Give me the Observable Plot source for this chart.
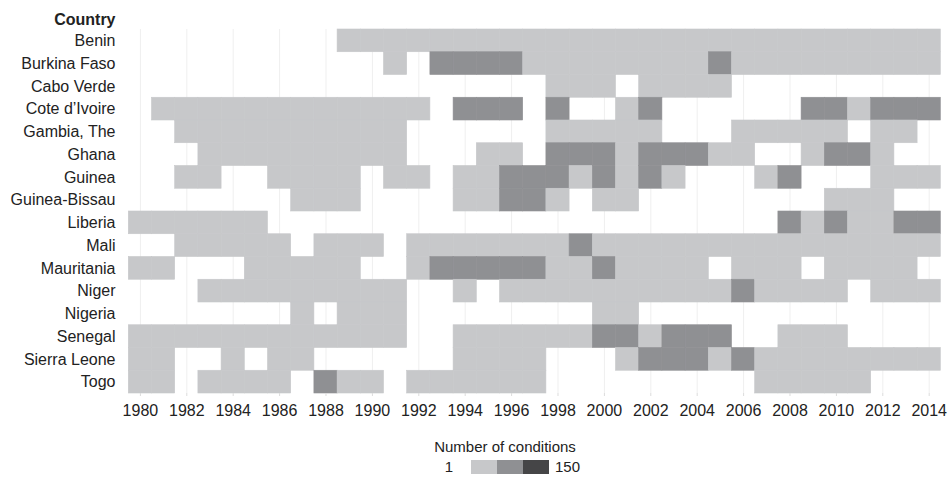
<!DOCTYPE html>
<html>
<head>
<meta charset="utf-8">
<script src="https://cdn.jsdelivr.net/npm/d3@7"></script>
<script src="https://cdn.jsdelivr.net/npm/@observablehq/plot@0.6"></script>
<style>
  html, body { margin: 0; padding: 0; background: #fff; }
  body { width: 948px; height: 477px; position: relative; overflow: hidden;
         font-family: "Liberation Sans", Arial, Helvetica, sans-serif; color: #222; }
  #legend-title { position: absolute; top: 438px; left: 505px; transform: translateX(-50%);
                  font-size: 15px; white-space: nowrap; }
  #legend-row { position: absolute; top: 459px; left: 0; width: 948px; height: 16px; font-size: 15px; }
  #legend-row .lo { position: absolute; right: 495px; top: -1px; }
  #legend-row .hi { position: absolute; left: 555px; top: -1px; }
  #legend-row .sw { position: absolute; top: 1px; width: 26px; height: 14px; }
</style>
</head>
<body>
<div id="chart"></div>
<div id="legend-title"></div>
<div id="legend-row"></div>
<script>
// ---- data ----
const years = d3.range(1980, 2015);
const evenYears = d3.range(1980, 2015, 2);
const countries = ["Benin", "Burkina Faso", "Cabo Verde", "Cote d\u2019Ivoire", "Gambia, The", "Ghana", "Guinea",
  "Guinea-Bissau", "Liberia", "Mali", "Mauritania", "Niger", "Nigeria", "Senegal", "Sierra Leone", "Togo"];
// level per year 1980..2014 (0 = none, 1 = light, 2 = medium, 3 = dark)
const benin        = [0,0,0,0,0,0,0,0,0,1,1,1,1,1,1,1,1,1,1,1,1,1,1,1,1,1,1,1,1,1,1,1,1,1,1];
const burkinaFaso  = [0,0,0,0,0,0,0,0,0,0,0,1,0,2,2,2,2,1,1,1,1,1,1,1,1,2,1,1,1,1,1,1,1,1,1];
const caboVerde    = [0,0,0,0,0,0,0,0,0,0,0,0,0,0,0,0,0,0,1,1,1,0,1,1,1,1,0,0,0,0,0,0,0,0,0];
const coteDIvoire  = [0,1,1,1,1,1,1,1,1,1,1,1,1,0,2,2,2,0,2,0,0,1,2,0,0,0,0,0,0,2,2,1,2,2,2];
const gambia       = [0,0,1,1,1,1,1,1,1,1,1,1,0,0,0,0,0,0,1,1,1,1,1,0,0,0,1,1,1,1,1,0,1,1,0];
const ghana        = [0,0,0,1,1,1,1,1,1,1,1,1,0,0,0,1,1,0,2,2,2,1,2,2,2,1,1,0,0,1,2,2,1,0,0];
const guinea       = [0,0,1,1,0,0,1,1,1,1,0,1,1,0,1,1,2,2,2,1,2,1,2,1,0,0,0,1,2,0,0,0,1,1,1];
const guineaBissau = [0,0,0,0,0,0,0,1,1,1,0,0,0,0,1,1,2,2,1,0,1,1,0,0,0,0,0,0,0,0,1,1,1,0,0];
const liberia      = [1,1,1,1,1,1,0,0,0,0,0,0,0,0,0,0,0,0,0,0,0,0,0,0,0,0,0,0,2,1,2,1,1,2,2];
const mali         = [0,0,1,1,1,1,1,0,1,1,1,0,1,1,1,1,1,1,1,2,1,1,1,1,1,1,1,1,1,1,1,1,1,1,1];
const mauritania   = [1,1,0,0,0,1,1,1,1,1,0,0,1,2,2,2,2,2,1,1,2,1,1,1,1,0,1,1,1,0,1,1,1,1,0];
const niger        = [0,0,0,1,1,1,1,1,1,1,1,1,0,0,1,0,1,1,1,1,1,1,1,1,1,1,2,1,1,1,1,0,1,1,1];
const nigeria      = [0,0,0,0,0,0,0,1,0,1,1,1,0,0,0,0,0,0,0,0,1,1,0,0,0,0,0,0,0,0,0,0,0,0,0];
const senegal      = [1,1,1,1,1,1,1,1,1,1,1,1,0,0,1,1,1,1,1,1,2,2,1,2,2,2,0,0,1,1,1,0,0,0,0];
const sierraLeone  = [1,1,0,0,1,0,1,1,0,0,0,0,0,0,1,1,1,1,0,0,0,1,2,2,2,1,2,1,1,1,1,1,1,1,1];
const togo         = [1,1,0,1,1,1,1,0,2,1,1,0,1,1,1,1,1,1,0,0,0,0,0,0,0,0,0,1,1,1,1,1,0,0,0];
const levels = [1, 2, 3];
const levelColors = ["#c7c8ca", "#8f9093", "#454547"];
const legendTitle = "Number of conditions";
const legendLow = "1";
const legendHigh = "150";

const series = [benin, burkinaFaso, caboVerde, coteDIvoire, gambia, ghana, guinea, guineaBissau,
  liberia, mali, mauritania, niger, nigeria, senegal, sierraLeone, togo];

const data = [];
countries.forEach((c, ci) => {
  series[ci].forEach((v, yi) => { if (v > 0) data.push({country: c, year: years[yi], level: v}); });
});

const chart = Plot.plot({
  width: 948,
  height: 430,
  marginLeft: 117,
  marginRight: 7.7,
  marginTop: 29,
  marginBottom: 37,
  style: {fontFamily: "'Liberation Sans', Arial, Helvetica, sans-serif", fontSize: "16px", color: "#222", background: "#fff"},
  x: {type: "band", domain: years, paddingInner: 0, paddingOuter: 0.2435, align: 1, round: false, axis: null},
  y: {type: "band", domain: countries, padding: 0, round: false, axis: null},
  color: {type: "ordinal", domain: levels, range: levelColors},
  marks: [
    Plot.gridX(evenYears, {stroke: "#efefef", strokeOpacity: 1}),
    Plot.cell(data, {x: "year", y: "country", fill: "level", stroke: "level", strokeWidth: 0.6}),
    Plot.axisX({ticks: evenYears, tickFormat: d => String(d), tickSize: 3, tickPadding: 8, line: true,
                stroke: "#dcdcdc", fill: "#222", label: null}),
    Plot.axisY({tickSize: 0, tickPadding: 2, line: true, stroke: "#dcdcdc", fill: "#222", label: null}),
    Plot.text(["Country"], {frameAnchor: "top-left", dx: -2, dy: -10, lineAnchor: "middle", textAnchor: "end",
                            fontWeight: "bold", fill: "#222"})
  ]
});
document.getElementById("chart").appendChild(chart);

// legend
document.getElementById("legend-title").textContent = legendTitle;
const row = document.getElementById("legend-row");
const lo = document.createElement("span"); lo.className = "lo"; lo.textContent = legendLow; row.appendChild(lo);
levelColors.forEach((c, i) => {
  const s = document.createElement("span"); s.className = "sw";
  s.style.left = (471 + i * 26) + "px"; s.style.background = c; row.appendChild(s);
});
const hi = document.createElement("span"); hi.className = "hi"; hi.textContent = legendHigh; row.appendChild(hi);
</script>
</body>
</html>
